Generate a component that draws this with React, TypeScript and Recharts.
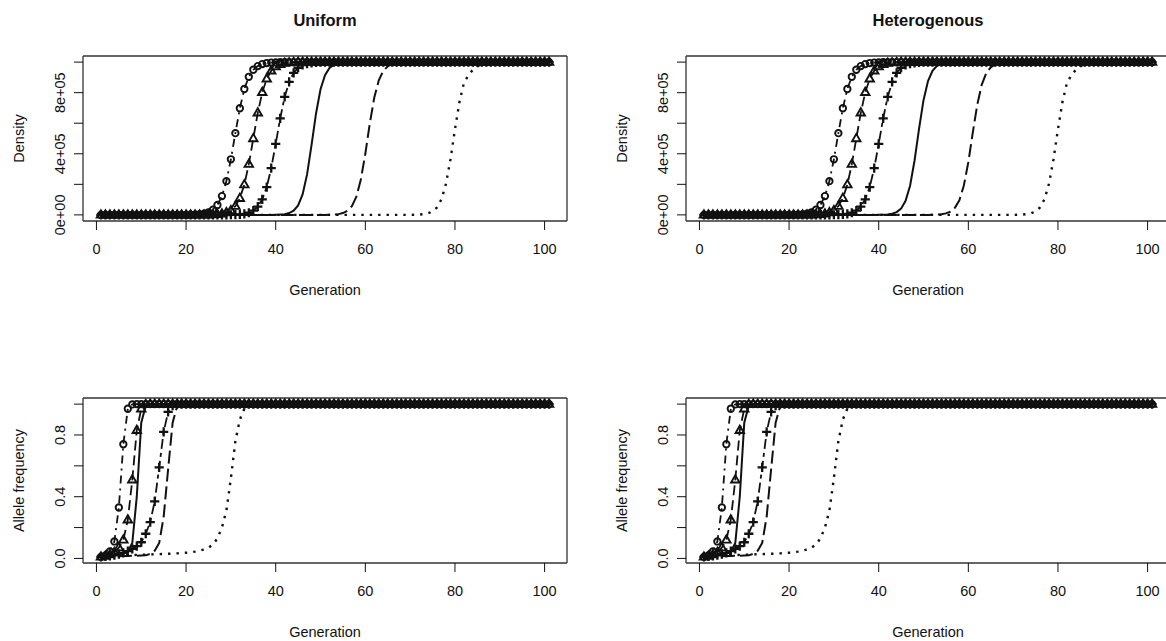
import { LineChart, Line, XAxis, YAxis, ReferenceLine } from "recharts";

const FONT = '"Liberation Sans", Arial, Helvetica, sans-serif';
const INK = "#111";

// generation index (x) for every series
const GENERATIONS = Array.from({ length: 101 }, (_, i) => i + 1);

// ---- density (top row), one value per generation 1..101 ----
const DENS_CIRCLE = [
  0, 0, 0, 0, 0, 0, 0, 0, 0, 0,
  0, 0, 0, 0, 0, 0, 0, 0, 0, 0,
  1e3, 2e3, 4e3, 8e3, 17e3, 34e3, 65e3, 123e3, 221e3, 364e3,
  535e3, 698e3, 824e3, 904e3, 950e3, 974e3, 987e3, 994e3, 997e3, 998e3,
  1e6, 1e6, 1e6, 1e6, 1e6, 1e6, 1e6, 1e6, 1e6, 1e6,
  1e6, 1e6, 1e6, 1e6, 1e6, 1e6, 1e6, 1e6, 1e6, 1e6,
  1e6, 1e6, 1e6, 1e6, 1e6, 1e6, 1e6, 1e6, 1e6, 1e6,
  1e6, 1e6, 1e6, 1e6, 1e6, 1e6, 1e6, 1e6, 1e6, 1e6,
  1e6, 1e6, 1e6, 1e6, 1e6, 1e6, 1e6, 1e6, 1e6, 1e6,
  1e6, 1e6, 1e6, 1e6, 1e6, 1e6, 1e6, 1e6, 1e6, 1e6,
  1e6,
];

const DENS_TRIANGLE = [
  0, 0, 0, 0, 0, 0, 0, 0, 0, 0,
  0, 0, 0, 0, 0, 0, 0, 0, 0, 0,
  0, 0, 0, 0, 1e3, 2e3, 4e3, 7e3, 15e3, 29e3,
  57e3, 109e3, 198e3, 332e3, 500e3, 668e3, 802e3, 891e3, 943e3, 971e3,
  985e3, 993e3, 996e3, 998e3, 1e6, 1e6, 1e6, 1e6, 1e6, 1e6,
  1e6, 1e6, 1e6, 1e6, 1e6, 1e6, 1e6, 1e6, 1e6, 1e6,
  1e6, 1e6, 1e6, 1e6, 1e6, 1e6, 1e6, 1e6, 1e6, 1e6,
  1e6, 1e6, 1e6, 1e6, 1e6, 1e6, 1e6, 1e6, 1e6, 1e6,
  1e6, 1e6, 1e6, 1e6, 1e6, 1e6, 1e6, 1e6, 1e6, 1e6,
  1e6, 1e6, 1e6, 1e6, 1e6, 1e6, 1e6, 1e6, 1e6, 1e6,
  1e6,
];

const DENS_PLUS = [
  0, 0, 0, 0, 0, 0, 0, 0, 0, 0,
  0, 0, 0, 0, 0, 0, 0, 0, 0, 0,
  0, 0, 0, 0, 0, 0, 0, 0, 0, 1e3,
  2e3, 4e3, 7e3, 14e3, 28e3, 54e3, 102e3, 182e3, 306e3, 465e3,
  632e3, 772e3, 870e3, 930e3, 963e3, 981e3, 990e3, 995e3, 998e3, 1e6,
  1e6, 1e6, 1e6, 1e6, 1e6, 1e6, 1e6, 1e6, 1e6, 1e6,
  1e6, 1e6, 1e6, 1e6, 1e6, 1e6, 1e6, 1e6, 1e6, 1e6,
  1e6, 1e6, 1e6, 1e6, 1e6, 1e6, 1e6, 1e6, 1e6, 1e6,
  1e6, 1e6, 1e6, 1e6, 1e6, 1e6, 1e6, 1e6, 1e6, 1e6,
  1e6, 1e6, 1e6, 1e6, 1e6, 1e6, 1e6, 1e6, 1e6, 1e6,
  1e6,
];

const DENS_SOLID_UNIFORM = [
  0, 0, 0, 0, 0, 0, 0, 0, 0, 0,
  0, 0, 0, 0, 0, 0, 0, 0, 0, 0,
  0, 0, 0, 0, 0, 0, 0, 0, 0, 0,
  0, 0, 0, 0, 0, 0, 0, 0, 0, 1e3,
  2e3, 5e3, 12e3, 27e3, 62e3, 134e3, 265e3, 458e3, 664e3, 822e3,
  915e3, 962e3, 983e3, 993e3, 997e3, 999e3, 1e6, 1e6, 1e6, 1e6,
  1e6, 1e6, 1e6, 1e6, 1e6, 1e6, 1e6, 1e6, 1e6, 1e6,
  1e6, 1e6, 1e6, 1e6, 1e6, 1e6, 1e6, 1e6, 1e6, 1e6,
  1e6, 1e6, 1e6, 1e6, 1e6, 1e6, 1e6, 1e6, 1e6, 1e6,
  1e6, 1e6, 1e6, 1e6, 1e6, 1e6, 1e6, 1e6, 1e6, 1e6,
  1e6,
];

const DENS_SOLID_HETERO = [
  0, 0, 0, 0, 0, 0, 0, 0, 0, 0,
  0, 0, 0, 0, 0, 0, 0, 0, 0, 0,
  0, 0, 0, 0, 0, 0, 0, 0, 0, 0,
  0, 0, 0, 0, 0, 0, 0, 0, 0, 1e3,
  1e3, 3e3, 8e3, 18e3, 41e3, 92e3, 191e3, 356e3, 563e3, 751e3,
  876e3, 943e3, 975e3, 989e3, 995e3, 998e3, 999e3, 1e6, 1e6, 1e6,
  1e6, 1e6, 1e6, 1e6, 1e6, 1e6, 1e6, 1e6, 1e6, 1e6,
  1e6, 1e6, 1e6, 1e6, 1e6, 1e6, 1e6, 1e6, 1e6, 1e6,
  1e6, 1e6, 1e6, 1e6, 1e6, 1e6, 1e6, 1e6, 1e6, 1e6,
  1e6, 1e6, 1e6, 1e6, 1e6, 1e6, 1e6, 1e6, 1e6, 1e6,
  1e6,
];

const DENS_DASHED_UNIFORM = [
  0, 0, 0, 0, 0, 0, 0, 0, 0, 0,
  0, 0, 0, 0, 0, 0, 0, 0, 0, 0,
  0, 0, 0, 0, 0, 0, 0, 0, 0, 0,
  0, 0, 0, 0, 0, 0, 0, 0, 0, 0,
  0, 0, 0, 0, 0, 0, 0, 0, 0, 0,
  0, 1e3, 2e3, 5e3, 12e3, 27e3, 57e3, 119e3, 231e3, 401e3,
  599e3, 769e3, 881e3, 943e3, 973e3, 988e3, 995e3, 998e3, 999e3, 1e6,
  1e6, 1e6, 1e6, 1e6, 1e6, 1e6, 1e6, 1e6, 1e6, 1e6,
  1e6, 1e6, 1e6, 1e6, 1e6, 1e6, 1e6, 1e6, 1e6, 1e6,
  1e6, 1e6, 1e6, 1e6, 1e6, 1e6, 1e6, 1e6, 1e6, 1e6,
  1e6,
];

const DENS_DASHED_HETERO = [
  0, 0, 0, 0, 0, 0, 0, 0, 0, 0,
  0, 0, 0, 0, 0, 0, 0, 0, 0, 0,
  0, 0, 0, 0, 0, 0, 0, 0, 0, 0,
  0, 0, 0, 0, 0, 0, 0, 0, 0, 0,
  0, 0, 0, 0, 0, 0, 0, 0, 0, 0,
  0, 1e3, 2e3, 4e3, 10e3, 21e3, 46e3, 96e3, 192e3, 345e3,
  540e3, 723e3, 853e3, 928e3, 966e3, 985e3, 993e3, 997e3, 999e3, 1e6,
  1e6, 1e6, 1e6, 1e6, 1e6, 1e6, 1e6, 1e6, 1e6, 1e6,
  1e6, 1e6, 1e6, 1e6, 1e6, 1e6, 1e6, 1e6, 1e6, 1e6,
  1e6, 1e6, 1e6, 1e6, 1e6, 1e6, 1e6, 1e6, 1e6, 1e6,
  1e6,
];

const DENS_DOTTED = [
  0, 0, 0, 0, 0, 0, 0, 0, 0, 0,
  0, 0, 0, 0, 0, 0, 0, 0, 0, 0,
  0, 0, 0, 0, 0, 0, 0, 0, 0, 0,
  0, 0, 0, 0, 0, 0, 0, 0, 0, 0,
  0, 0, 0, 0, 0, 0, 0, 0, 0, 0,
  0, 0, 0, 0, 0, 0, 0, 0, 0, 0,
  0, 0, 0, 0, 0, 0, 0, 0, 0, 0,
  1e3, 2e3, 5e3, 10e3, 23e3, 49e3, 103e3, 204e3, 364e3, 560e3,
  739e3, 863e3, 915e3, 950e3, 972e3, 985e3, 993e3, 997e3, 999e3, 1e6,
  1e6, 1e6, 1e6, 1e6, 1e6, 1e6, 1e6, 1e6, 1e6, 1e6,
  1e6,
];

// ---- allele frequency (bottom row) ----
const FREQ_CIRCLE = [
  0.01, 0.02, 0.045, 0.11, 0.33, 0.74, 0.97, 0.998, 1, 1,
  1, 1, 1, 1, 1, 1, 1, 1, 1, 1,
  1, 1, 1, 1, 1, 1, 1, 1, 1, 1,
  1, 1, 1, 1, 1, 1, 1, 1, 1, 1,
  1, 1, 1, 1, 1, 1, 1, 1, 1, 1,
  1, 1, 1, 1, 1, 1, 1, 1, 1, 1,
  1, 1, 1, 1, 1, 1, 1, 1, 1, 1,
  1, 1, 1, 1, 1, 1, 1, 1, 1, 1,
  1, 1, 1, 1, 1, 1, 1, 1, 1, 1,
  1, 1, 1, 1, 1, 1, 1, 1, 1, 1,
  1,
];

const FREQ_TRIANGLE = [
  0.01, 0.015, 0.025, 0.04, 0.07, 0.12, 0.25, 0.51, 0.83, 0.97,
  0.998, 1, 1, 1, 1, 1, 1, 1, 1, 1,
  1, 1, 1, 1, 1, 1, 1, 1, 1, 1,
  1, 1, 1, 1, 1, 1, 1, 1, 1, 1,
  1, 1, 1, 1, 1, 1, 1, 1, 1, 1,
  1, 1, 1, 1, 1, 1, 1, 1, 1, 1,
  1, 1, 1, 1, 1, 1, 1, 1, 1, 1,
  1, 1, 1, 1, 1, 1, 1, 1, 1, 1,
  1, 1, 1, 1, 1, 1, 1, 1, 1, 1,
  1, 1, 1, 1, 1, 1, 1, 1, 1, 1,
  1,
];

const FREQ_SOLID = [
  0.01, 0.012, 0.015, 0.018, 0.023, 0.03, 0.045, 0.1, 0.4, 0.88,
  0.99, 1, 1, 1, 1, 1, 1, 1, 1, 1,
  1, 1, 1, 1, 1, 1, 1, 1, 1, 1,
  1, 1, 1, 1, 1, 1, 1, 1, 1, 1,
  1, 1, 1, 1, 1, 1, 1, 1, 1, 1,
  1, 1, 1, 1, 1, 1, 1, 1, 1, 1,
  1, 1, 1, 1, 1, 1, 1, 1, 1, 1,
  1, 1, 1, 1, 1, 1, 1, 1, 1, 1,
  1, 1, 1, 1, 1, 1, 1, 1, 1, 1,
  1, 1, 1, 1, 1, 1, 1, 1, 1, 1,
  1,
];

const FREQ_PLUS = [
  0.01, 0.013, 0.017, 0.022, 0.028, 0.036, 0.047, 0.062, 0.08, 0.105,
  0.16, 0.235, 0.37, 0.59, 0.82, 0.95, 0.99, 1, 1, 1,
  1, 1, 1, 1, 1, 1, 1, 1, 1, 1,
  1, 1, 1, 1, 1, 1, 1, 1, 1, 1,
  1, 1, 1, 1, 1, 1, 1, 1, 1, 1,
  1, 1, 1, 1, 1, 1, 1, 1, 1, 1,
  1, 1, 1, 1, 1, 1, 1, 1, 1, 1,
  1, 1, 1, 1, 1, 1, 1, 1, 1, 1,
  1, 1, 1, 1, 1, 1, 1, 1, 1, 1,
  1, 1, 1, 1, 1, 1, 1, 1, 1, 1,
  1,
];

const FREQ_DASHED = [
  0.01, 0.011, 0.012, 0.013, 0.014, 0.015, 0.016, 0.017, 0.018, 0.019,
  0.02, 0.03, 0.05, 0.1, 0.27, 0.58, 0.88, 0.985, 1, 1,
  1, 1, 1, 1, 1, 1, 1, 1, 1, 1,
  1, 1, 1, 1, 1, 1, 1, 1, 1, 1,
  1, 1, 1, 1, 1, 1, 1, 1, 1, 1,
  1, 1, 1, 1, 1, 1, 1, 1, 1, 1,
  1, 1, 1, 1, 1, 1, 1, 1, 1, 1,
  1, 1, 1, 1, 1, 1, 1, 1, 1, 1,
  1, 1, 1, 1, 1, 1, 1, 1, 1, 1,
  1, 1, 1, 1, 1, 1, 1, 1, 1, 1,
  1,
];

const FREQ_DOTTED = [
  0.01, 0.012, 0.014, 0.016, 0.018, 0.02, 0.021, 0.022, 0.023, 0.024,
  0.025, 0.026, 0.027, 0.028, 0.029, 0.03, 0.031, 0.033, 0.035, 0.037,
  0.04, 0.044, 0.05, 0.058, 0.07, 0.09, 0.13, 0.2, 0.31, 0.52,
  0.76, 0.9, 0.97, 0.995, 1, 1, 1, 1, 1, 1,
  1, 1, 1, 1, 1, 1, 1, 1, 1, 1,
  1, 1, 1, 1, 1, 1, 1, 1, 1, 1,
  1, 1, 1, 1, 1, 1, 1, 1, 1, 1,
  1, 1, 1, 1, 1, 1, 1, 1, 1, 1,
  1, 1, 1, 1, 1, 1, 1, 1, 1, 1,
  1, 1, 1, 1, 1, 1, 1, 1, 1, 1,
  1,
];

const X_TICKS = [0, 20, 40, 60, 80, 100];
const DENS_TICKS = [0, 2e5, 4e5, 6e5, 8e5, 1e6];
const DENS_LABELS: [number, string][] = [[0, "0e+00"], [4e5, "4e+05"], [8e5, "8e+05"]];
const FREQ_TICKS = [0, 0.2, 0.4, 0.6, 0.8, 1];
const FREQ_LABELS: [number, string][] = [[0, "0.0"], [0.4, "0.4"], [0.8, "0.8"]];

type Row = { g: number; solid: number; dashed: number; dotted: number; circle: number; triangle: number; plus: number };

function makeRows(solid: number[], dashed: number[], dotted: number[], circle: number[], triangle: number[], plus: number[]): Row[] {
  return GENERATIONS.map((g, i) => ({
    g,
    solid: solid[i],
    dashed: dashed[i],
    dotted: dotted[i],
    circle: circle[i],
    triangle: triangle[i],
    plus: plus[i],
  }));
}

const circleDot = (p: any) => (
  <circle key={`c${p.index}`} cx={p.cx} cy={p.cy} r={3.2} fill="none" stroke={INK} strokeWidth={1.9} />
);
const triangleDot = (p: any) => (
  <path
    key={`t${p.index}`}
    d={`M${p.cx},${p.cy - 4.6}L${p.cx + 4.2},${p.cy + 2.7}L${p.cx - 4.2},${p.cy + 2.7}Z`}
    fill="none"
    stroke={INK}
    strokeWidth={1.9}
  />
);
const plusDot = (p: any) => (
  <path
    key={`p${p.index}`}
    d={`M${p.cx - 4.6},${p.cy}H${p.cx + 4.6}M${p.cx},${p.cy - 4.6}V${p.cy + 4.6}`}
    fill="none"
    stroke={INK}
    strokeWidth={2.3}
  />
);

interface PanelProps {
  title: string;
  yLabel: string;
  rows: Row[];
  yDomain: [number, number];
  yTicks: number[];
  yLabels: [number, string][];
}

function Panel({ title, yLabel, rows, yDomain, yTicks, yLabels }: PanelProps) {
  const midX = 325;
  return (
    <LineChart width={583} height={320} data={rows} margin={{ top: 56, right: 16, bottom: 59, left: 0 }}>
      <XAxis
        dataKey="g"
        type="number"
        domain={[-3, 105]}
        ticks={X_TICKS}
        interval={0}
        allowDataOverflow
        axisLine={false}
        tickLine={{ stroke: INK }}
        tickSize={9}
        height={40}
        tick={(p: any) => (
          <text x={p.x} y={254} textAnchor="middle" fontSize={14.5} fontFamily={FONT} fill={INK}>
            {p.payload.value}
          </text>
        )}
        label={() => (
          <g fontFamily={FONT} fill={INK}>
            {title && (
              <text x={midX} y={26} textAnchor="middle" fontSize={16.5} fontWeight="bold">
                {title}
              </text>
            )}
            <text x={midX} y={295} textAnchor="middle" fontSize={14.5}>
              Generation
            </text>
            <text x={24} y={138.5} transform="rotate(-90 24 138.5)" textAnchor="middle" fontSize={14.5}>
              {yLabel}
            </text>
          </g>
        )}
      />
      <YAxis
        type="number"
        domain={yDomain}
        ticks={yTicks}
        interval={0}
        allowDataOverflow
        axisLine={false}
        tickLine={{ stroke: INK }}
        tickSize={9}
        width={83}
        tick={(p: any) => {
          const hit = yLabels.find(([v]) => Math.abs(v - p.payload.value) < 1e-9);
          if (!hit) return <g />;
          return (
            <text
              x={65}
              y={p.y}
              transform={`rotate(-90 65 ${p.y})`}
              textAnchor="middle"
              fontSize={14.5}
              fontFamily={FONT}
              fill={INK}
            >
              {hit[1]}
            </text>
          );
        }}
      />
      <ReferenceLine x={-3} stroke="#333" strokeWidth={1.3} />
      <ReferenceLine x={105} stroke="#333" strokeWidth={1.3} />
      <ReferenceLine y={yDomain[0]} stroke="#333" strokeWidth={1.3} />
      <ReferenceLine y={yDomain[1]} stroke="#333" strokeWidth={1.3} />

      <Line dataKey="solid" type="linear" stroke={INK} strokeWidth={2} dot={false} isAnimationActive={false} />
      <Line dataKey="dashed" type="linear" stroke={INK} strokeWidth={2} strokeDasharray="13 5" dot={false} isAnimationActive={false} />
      <Line dataKey="dotted" type="linear" stroke={INK} strokeWidth={2.4} strokeDasharray="2.4 6" dot={false} isAnimationActive={false} />
      <Line dataKey="circle" type="linear" stroke={INK} strokeWidth={1.8} strokeDasharray="8 5 2 5" dot={circleDot} isAnimationActive={false} />
      <Line dataKey="triangle" type="linear" stroke={INK} strokeWidth={1.8} strokeDasharray="10 5" dot={triangleDot} isAnimationActive={false} />
      <Line dataKey="plus" type="linear" stroke={INK} strokeWidth={1.8} strokeDasharray="4 4 10 4" dot={plusDot} isAnimationActive={false} />
    </LineChart>
  );
}

const DENS_DOMAIN: [number, number] = [-40000, 1040000];
const FREQ_DOMAIN: [number, number] = [-0.0296, 1.0396];

export default function App() {
  const densUniform = makeRows(DENS_SOLID_UNIFORM, DENS_DASHED_UNIFORM, DENS_DOTTED, DENS_CIRCLE, DENS_TRIANGLE, DENS_PLUS);
  const densHetero = makeRows(DENS_SOLID_HETERO, DENS_DASHED_HETERO, DENS_DOTTED, DENS_CIRCLE, DENS_TRIANGLE, DENS_PLUS);
  const freqRows = makeRows(FREQ_SOLID, FREQ_DASHED, FREQ_DOTTED, FREQ_CIRCLE, FREQ_TRIANGLE, FREQ_PLUS);

  return (
    <div style={{ position: "absolute", left: 0, top: 0, width: 1166, height: 641, overflow: "hidden", background: "#fff" }}>
      <div style={{ position: "absolute", left: 0, top: 0 }}>
        <Panel title="Uniform" yLabel="Density" rows={densUniform} yDomain={DENS_DOMAIN} yTicks={DENS_TICKS} yLabels={DENS_LABELS} />
      </div>
      <div style={{ position: "absolute", left: 603, top: 0 }}>
        <Panel title="Heterogenous" yLabel="Density" rows={densHetero} yDomain={DENS_DOMAIN} yTicks={DENS_TICKS} yLabels={DENS_LABELS} />
      </div>
      <div style={{ position: "absolute", left: 0, top: 342 }}>
        <Panel title="" yLabel="Allele frequency" rows={freqRows} yDomain={FREQ_DOMAIN} yTicks={FREQ_TICKS} yLabels={FREQ_LABELS} />
      </div>
      <div style={{ position: "absolute", left: 603, top: 342 }}>
        <Panel title="" yLabel="Allele frequency" rows={freqRows} yDomain={FREQ_DOMAIN} yTicks={FREQ_TICKS} yLabels={FREQ_LABELS} />
      </div>
    </div>
  );
}
